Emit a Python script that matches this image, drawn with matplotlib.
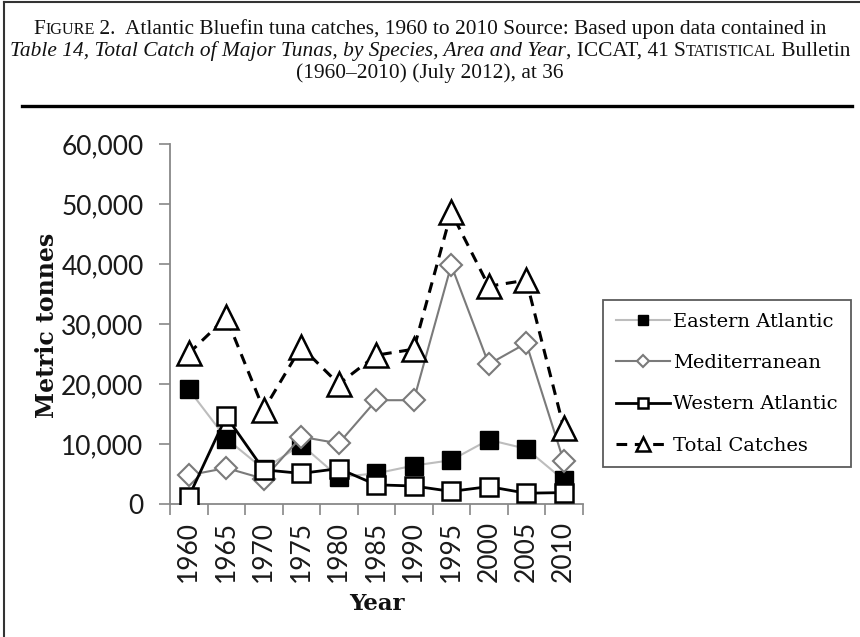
import matplotlib
matplotlib.use('Agg')
import matplotlib.pyplot as plt
from matplotlib.lines import Line2D

years = [1960, 1965, 1970, 1975, 1980, 1985, 1990, 1995, 2000, 2005, 2010]
eastern = [19100, 10900, 5800, 9900, 4500, 5100, 6400, 7300, 10700, 9200, 4000]
mediterranean = [4800, 6000, 4200, 11200, 10100, 17300, 17300, 39800, 23300, 26800, 7100]
western = [1200, 14600, 5700, 5100, 5900, 3200, 3000, 2100, 2900, 1800, 1900]
total = [25100, 31100, 15700, 26200, 20000, 24800, 25800, 48600, 36300, 37300, 12700]
series_names = ['Eastern Atlantic', 'Mediterranean', 'Western Atlantic', 'Total Catches']
yticks = [0, 10000, 20000, 30000, 40000, 50000, 60000]
ytick_labels = ['0', '10,000', '20,000', '30,000', '40,000', '50,000', '60,000']

W, H = 860, 637
fig = plt.figure(figsize=(W / 100, H / 100), dpi=100)

# frame lines
fig.add_artist(Line2D([4 / W, 4 / W], [0, 1 - 2 / H], color='#333333', lw=1.5))
fig.add_artist(Line2D([4 / W, 1], [1 - 2 / H, 1 - 2 / H], color='#333333', lw=1.5))
fig.add_artist(Line2D([22 / W, 852 / W], [1 - 106 / H, 1 - 106 / H], color='black', lw=2.4))

# title lines with small caps
serif = 'Liberation Serif'
big, small = 15.4, 11.6
lines = [
    (28, [("F", big, 'normal'), ("IGURE", small, 'normal'),
          (" 2.  Atlantic Bluefin tuna catches, 1960 to 2010 Source: Based upon data contained in", big, 'normal')]),
    (50, [("Table 14, Total Catch of Major Tunas, by Species, Area and Year", big, 'italic'),
          (", ICCAT, 41 ", big, 'normal'), ("S", big, 'normal'), ("TATISTICAL", small, 'normal'),
          (" Bulletin", big, 'normal')]),
    (72, [("(1960\u20132010) (July 2012), at 36", big, 'normal')]),
]
fig.canvas.draw()
renderer = fig.canvas.get_renderer()
for ypix, segs in lines:
    texts = []
    widths = []
    for s, size, style in segs:
        t = fig.text(0, 1 - ypix / H, s, fontsize=size, family=serif, style=style,
                     va='baseline', ha='left', color='#111111')
        bb = t.get_window_extent(renderer)
        texts.append(t)
        widths.append(bb.width)
    total_w = sum(widths)
    x = (W - total_w) / 2
    for t, w in zip(texts, widths):
        t.set_x(x / W)
        t.set_y(1 - (ypix + 6) / H)
        x += w

# axes
ax = fig.add_axes([170 / W, 1 - 504 / H, 412.5 / W, 360 / H])
xs = list(range(len(years)))

ax.plot(xs, eastern, color='#bdbdbd', lw=1.5, marker='s', markersize=13,
        markerfacecolor='black', markeredgecolor='black', markeredgewidth=1.0,
        label=series_names[0], zorder=3)
ax.plot(xs, mediterranean, color='#7a7a7a', lw=1.5, marker='D', markersize=11,
        markerfacecolor='white', markeredgecolor='#7a7a7a', markeredgewidth=1.5,
        label=series_names[1], zorder=4)
ax.plot(xs, western, color='black', lw=2.0, marker='s', markersize=13,
        markerfacecolor='white', markeredgecolor='black', markeredgewidth=1.8,
        label=series_names[2], zorder=5)
ax.plot(xs, total, color='black', lw=2.2, ls=(0, (3.5, 2.5)), marker='^', markersize=17,
        markerfacecolor='white', markeredgecolor='black', markeredgewidth=1.8,
        label=series_names[3], zorder=6)

ax.set_xlim(-0.5, len(years) - 0.5)
ax.set_ylim(0, 60000)
ax.set_yticks(yticks)
ax.set_yticklabels(ytick_labels)
ax.set_xticks(xs)
ax.set_xticklabels([str(y) for y in years], rotation=90)
ax.set_xticks([i - 0.5 for i in range(len(years) + 1)], minor=True)
ax.tick_params(axis='x', which='major', length=0, pad=12)
ax.tick_params(axis='x', which='minor', length=8, width=1.2, color='#888888', direction='out')
ax.tick_params(axis='y', length=8, width=1.2, color='#888888', direction='out', pad=11)
for lab in ax.get_xticklabels() + ax.get_yticklabels():
    lab.set_fontfamily('Lato')
    lab.set_fontsize(19)
    lab.set_color('#1a1a1a')
for s in ['top', 'right']:
    ax.spines[s].set_visible(False)
for s in ['left', 'bottom']:
    ax.spines[s].set_color('#888888')
    ax.spines[s].set_linewidth(1.3)

fig.text(47 / W, 1 - 325 / H, 'Metric tonnes', rotation=90, ha='center', va='center',
         family='DejaVu Serif', fontweight='bold', fontsize=17, color='#111111')
fig.text(377 / W, 1 - 604 / H, 'Year', ha='center', va='center',
         family='DejaVu Serif', fontweight='bold', fontsize=16.5, color='#111111')

# legend
handles, labels = ax.get_legend_handles_labels()
leg = fig.legend(handles, labels, loc='upper left',
                 bbox_to_anchor=(603 / W, 1 - 462 / H, 248 / W, 162 / H),
                 mode='expand', borderaxespad=0, fancybox=False,
                 prop={'family': 'DejaVu Serif', 'size': 14},
                 handlelength=2.8, handletextpad=0.15, labelspacing=1.2,
                 borderpad=0.65, markerscale=0.6, frameon=True)
leg.get_frame().set_edgecolor('#333333')
leg.get_frame().set_linewidth(1.3)

fig.savefig('out.png', dpi=100)
